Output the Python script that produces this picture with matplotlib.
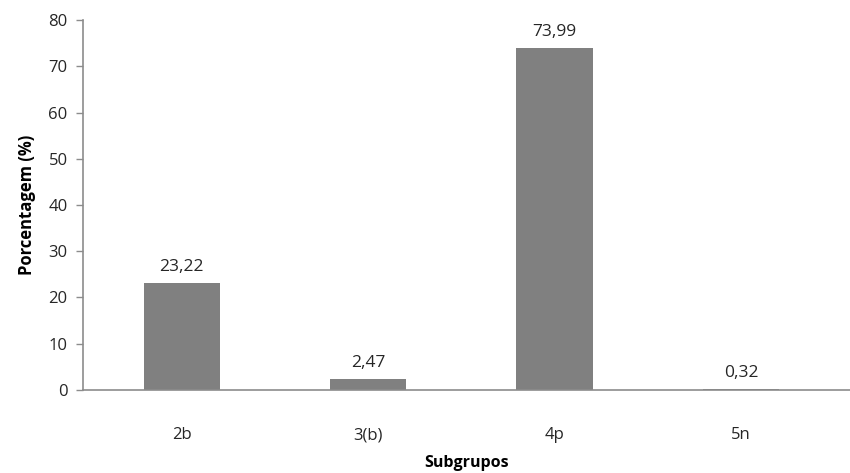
import matplotlib.pyplot as plt

categories = ['2b', '3(b)', '4p', '5n']
values = [23.22, 2.47, 73.99, 0.32]
value_labels = ['23,22', '2,47', '73,99', '0,32']
yticks = [0, 10, 20, 30, 40, 50, 60, 70, 80]

plt.rcParams['font.family'] = ['Open Sans', 'DejaVu Sans']

fig = plt.figure(figsize=(8.5, 4.73), dpi=100)
ax = fig.add_axes([0.0976, 0.1755, 0.9024, 0.7822])

x = range(len(categories))
bars = ax.bar(x, values, width=0.41, color='#808080', zorder=2)

for xi, v, lab in zip(x, values, value_labels):
    ax.annotate(lab, (xi, v), xytext=(0, 5.5), textcoords='offset points',
                ha='center', va='bottom', fontsize=12.5, color='#262626')

ax.set_xlim(-0.53, 3.585)
ax.set_ylim(0, 80)
ax.set_yticks(yticks)
ax.set_xticks(list(x))
ax.set_xticklabels(categories)

for side in ('top', 'right'):
    ax.spines[side].set_visible(False)
for side in ('left', 'bottom'):
    ax.spines[side].set_color('#8c8c8c')
    ax.spines[side].set_linewidth(1.2)

ax.tick_params(axis='y', direction='out', length=5, width=1.0, color='#8c8c8c',
               labelsize=12, labelcolor='#262626', pad=6)
ax.tick_params(axis='x', length=0, labelsize=12, labelcolor='#262626', pad=27)

ax.set_ylabel('Porcentagem (%)', fontsize=12, fontweight='bold', labelpad=9)
ax.set_xlabel('Subgrupos', fontsize=11.5, fontweight='bold', labelpad=8)

fig.savefig('out.png', dpi=100)
